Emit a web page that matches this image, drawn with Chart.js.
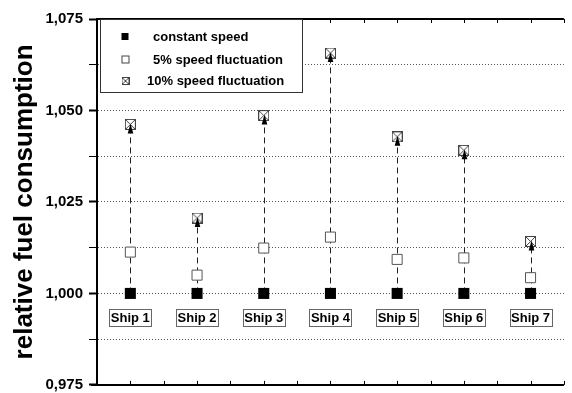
<!DOCTYPE html>
<html>
<head>
<meta charset="utf-8">
<script src="https://cdn.jsdelivr.net/npm/chart.js@4"></script>
<style>
  body { margin: 0; background: #fff; }
  #wrap { width: 572px; height: 393px; position: relative; }
</style>
</head>
<body>
<div id="wrap"><canvas id="myChart"></canvas></div>
<script>
const ships = ["Ship 1", "Ship 2", "Ship 3", "Ship 4", "Ship 5", "Ship 6", "Ship 7"];
const constantSpeed = [1.0, 1.0, 1.0, 1.0, 1.0, 1.0, 1.0];
const fluct5 = [1.0113, 1.005, 1.0124, 1.0154, 1.0093, 1.0097, 1.0043];
const fluct10 = [1.0462, 1.0206, 1.0486, 1.0657, 1.0428, 1.0391, 1.0142];
const seriesNames = ["constant speed", "5% speed fluctuation", "10% speed fluctuation"];
const yMin = 0.975;
const yMax = 1.075;
const yStep = 0.0125;
const labelLevel = 0.9935;

const FONT = "'Liberation Sans', Arial, sans-serif";

const toPoints = (arr) => arr.map((v, i) => ({ x: i + 1, y: v }));

// crossed square used for the 10% series
const crossBox = (size) => {
  const c = document.createElement("canvas");
  c.width = size;
  c.height = size;
  const g = c.getContext("2d");
  g.fillStyle = "#fff";
  g.fillRect(0, 0, size, size);
  g.strokeStyle = "#444";
  g.lineWidth = 1;
  g.strokeRect(0.5, 0.5, size - 1, size - 1);
  g.beginPath();
  g.moveTo(1, 1);
  g.lineTo(size - 1, size - 1);
  g.moveTo(size - 1, 1);
  g.lineTo(1, size - 1);
  g.stroke();
  return c;
};

const isMajor = (v) => Math.abs(Math.round(v / 0.025) * 0.025 - v) < 1e-6;

const decor = {
  id: "decor",
  beforeDatasetsDraw(chart) {
    const { ctx } = chart;
    const xs = chart.scales.x;
    const ys = chart.scales.y;
    ctx.save();
    ctx.strokeStyle = "#222";
    ctx.lineWidth = 1;
    ctx.setLineDash([6, 4]);
    fluct10.forEach((v, i) => {
      const x = Math.round(xs.getPixelForValue(i + 1)) + 0.5;
      ctx.beginPath();
      ctx.moveTo(x, ys.getPixelForValue(constantSpeed[i]));
      ctx.lineTo(x, ys.getPixelForValue(v));
      ctx.stroke();
    });
    ctx.restore();
  },
  afterDatasetsDraw(chart) {
    const { ctx, chartArea } = chart;
    const xs = chart.scales.x;
    const ys = chart.scales.y;
    ctx.save();

    // arrow heads under the 10% markers
    ctx.fillStyle = "#000";
    fluct10.forEach((v, i) => {
      const x = Math.round(xs.getPixelForValue(i + 1)) + 0.5;
      const y = ys.getPixelForValue(v);
      ctx.beginPath();
      ctx.moveTo(x, y - 1);
      ctx.lineTo(x + 2.8, y + 9);
      ctx.lineTo(x - 2.8, y + 9);
      ctx.closePath();
      ctx.fill();
    });

    // ship labels in boxes
    ctx.font = "bold 13px " + FONT;
    ctx.textAlign = "center";
    ctx.textBaseline = "middle";
    ships.forEach((s, i) => {
      const x = xs.getPixelForValue(i + 1);
      const y = ys.getPixelForValue(labelLevel);
      const w = Math.round(ctx.measureText(s).width + 3);
      const bx = Math.round(x - w / 2);
      const by = Math.round(y - 8);
      ctx.fillStyle = "#fff";
      ctx.fillRect(bx, by, w, 17);
      ctx.strokeStyle = "#666";
      ctx.lineWidth = 1;
      ctx.strokeRect(bx + 0.5, by + 0.5, w, 17);
      ctx.fillStyle = "#000";
      ctx.fillText(s, x, y + 1.5);
    });

    // top border and bottom axis with small inward ticks
    ctx.strokeStyle = "#000";
    ctx.lineWidth = 2;
    ctx.beginPath();
    ctx.moveTo(chartArea.left, chartArea.top);
    ctx.lineTo(chartArea.right, chartArea.top);
    ctx.moveTo(chartArea.left - 6, chartArea.bottom);
    ctx.lineTo(chartArea.right, chartArea.bottom);
    ctx.stroke();
    ctx.lineWidth = 1;
    ctx.beginPath();
    for (let t = 1; t <= 7.5; t += 0.5) {
      const x = Math.round(xs.getPixelForValue(t)) + 0.5;
      ctx.moveTo(x, chartArea.top);
      ctx.lineTo(x, chartArea.top + 4);
      ctx.moveTo(x, chartArea.bottom);
      ctx.lineTo(x, chartArea.bottom - 4);
    }
    ctx.stroke();

    // legend box
    const lx = chartArea.left + 3;
    const ly = chartArea.top;
    ctx.strokeStyle = "#333";
    ctx.lineWidth = 1;
    ctx.fillStyle = "#fff";
    ctx.fillRect(lx, ly, 202, 73);
    ctx.strokeRect(lx + 0.5, ly + 0.5, 202, 73);
    const rows = [17.5, 40, 61.5];
    const textX = [153, 153, 147];
    ctx.font = "bold 13px " + FONT;
    ctx.textAlign = "left";
    ctx.textBaseline = "middle";
    seriesNames.forEach((name, k) => {
      const cy = ly + rows[k];
      const cx = 125;
      if (k === 0) {
        ctx.fillStyle = "#000";
        ctx.fillRect(cx - 3.5, cy - 3.5, 7, 7);
      } else if (k === 1) {
        ctx.strokeStyle = "#444";
        ctx.strokeRect(cx - 3, cy - 3, 7, 7);
      } else {
        ctx.drawImage(crossBox(8), cx - 3.5, cy - 3.5);
      }
      ctx.fillStyle = "#000";
      ctx.fillText(name, textX[k], cy + 1);
    });

    ctx.restore();
  },
};

const data = {
  datasets: [
    {
      label: seriesNames[0],
      data: toPoints(constantSpeed),
      pointStyle: "rect",
      pointRadius: 7.8,
      backgroundColor: "#000",
      borderColor: "#000",
      borderWidth: 0,
      showLine: false,
      order: 3,
    },
    {
      label: seriesNames[1],
      data: toPoints(fluct5),
      pointStyle: "rect",
      pointRadius: 7.1,
      backgroundColor: "#fff",
      borderColor: "#555",
      borderWidth: 1,
      showLine: false,
      order: 2,
    },
    {
      label: seriesNames[2],
      data: toPoints(fluct10),
      pointStyle: crossBox(11),
      pointRadius: 6,
      showLine: false,
      order: 1,
    },
  ],
};

const config = {
  type: "scatter",
  data: data,
  options: {
    responsive: true,
    maintainAspectRatio: false,
    animation: false,
    devicePixelRatio: 1,
    layout: { padding: { top: 19, bottom: 6, right: 0, left: 0 } },
    plugins: {
      legend: { display: false },
      tooltip: { enabled: false },
    },
    scales: {
      x: {
        type: "linear",
        min: 0.5,
        max: 7.5,
        display: false,
      },
      y: {
        min: yMin,
        max: yMax,
        afterFit: (scale) => {
          scale.width = 97;
          scale.paddingTop = 0;
          scale.paddingBottom = 0;
        },
        border: { color: "#000", width: 2, dash: [1, 2] },
        grid: {
          color: (c) =>
            c.tick && (Math.abs(c.tick.value - yMin) < 1e-6 || Math.abs(c.tick.value - yMax) < 1e-6)
              ? "rgba(0,0,0,0)"
              : "#555",
          lineWidth: 1,
          tickColor: "#000",
          tickBorderDash: [1, 0],
          tickLength: 8,
          tickWidth: (c) => (c.tick && isMajor(c.tick.value) ? 2 : 1),
        },
        ticks: {
          stepSize: yStep,
          padding: 6,
          color: "#000",
          font: { family: FONT, size: 15, weight: "bold" },
          callback: (v) => (isMajor(v) ? v.toFixed(3).replace(".", ",") : ""),
        },
        title: {
          display: true,
          text: "relative fuel consumption",
          color: "#000",
          font: { family: FONT, size: 26, weight: "bold" },
          padding: { top: 9, bottom: 0 },
        },
      },
    },
  },
  plugins: [decor],
};

new Chart(document.getElementById("myChart"), config);
</script>
</body>
</html>
